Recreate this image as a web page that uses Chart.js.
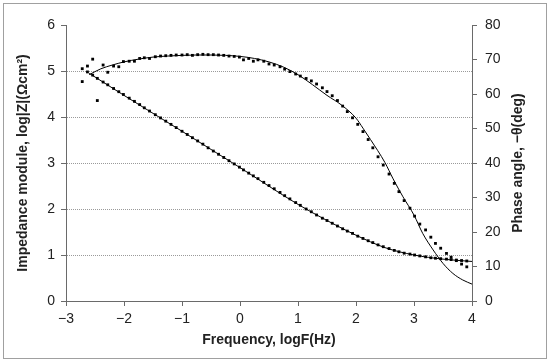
<!DOCTYPE html>
<html>
<head>
<meta charset="utf-8">
<script src="https://cdn.jsdelivr.net/npm/chart.js@4.4.0/dist/chart.umd.min.js"></script>
<style>
  body { margin: 0; background: #fff; }
  #wrap { position: relative; width: 550px; height: 362px; }
  #frame { position: absolute; left: 3px; top: 3px; width: 542px; height: 354px; border: 1px solid #a0a0a0; pointer-events: none; }
  canvas { position: absolute; left: 0; top: 0; }
</style>
</head>
<body>
<div id="wrap">
  <canvas id="bodeChart" width="550" height="362"></canvas>
  <div id="frame"></div>
</div>
<script>
// measured points, logF(Hz)
const freq = [-2.72, -2.63, -2.54, -2.46, -2.36, -2.28, -2.18, -2.09, -2.01, -1.91,
  -1.82, -1.73, -1.65, -1.56, -1.46, -1.37, -1.28, -1.19, -1.10, -1.00,
  -0.91, -0.82, -0.73, -0.64, -0.55, -0.46, -0.37, -0.28, -0.19, -0.10,
  -0.01, 0.06, 0.15, 0.23, 0.31, 0.41, 0.50, 0.59, 0.69, 0.77,
  0.86, 0.96, 1.04, 1.14, 1.23, 1.32, 1.42, 1.50, 1.59, 1.68,
  1.77, 1.85, 1.94, 2.03, 2.12, 2.21, 2.29, 2.38, 2.47, 2.57,
  2.66, 2.74, 2.83, 2.93, 3.01, 3.10, 3.20, 3.29, 3.37, 3.46,
  3.56, 3.64, 3.73, 3.82, 3.91];

// log|Z| (Ohm cm2)
const impedance = [5.05, 4.98, 4.91, 4.84, 4.76, 4.70, 4.62, 4.55, 4.49, 4.41,
  4.34, 4.27, 4.20, 4.13, 4.05, 3.98, 3.91, 3.84, 3.77, 3.69,
  3.62, 3.55, 3.48, 3.41, 3.33, 3.26, 3.19, 3.12, 3.05, 2.98,
  2.91, 2.85, 2.78, 2.72, 2.66, 2.58, 2.51, 2.44, 2.36, 2.29,
  2.22, 2.14, 2.08, 2.00, 1.94, 1.87, 1.80, 1.75, 1.69, 1.63,
  1.57, 1.52, 1.47, 1.41, 1.36, 1.31, 1.27, 1.22, 1.18, 1.14,
  1.10, 1.07, 1.04, 1.02, 1.00, 0.98, 0.96, 0.94, 0.93, 0.92,
  0.91, 0.90, 0.89, 0.88, 0.87];

// -theta (deg)
const phase = [63.6, 68.1, 70.1, 58.1, 68.4, 66.3, 68.1, 67.9, 69.4, 69.5,
  69.5, 70.3, 70.5, 70.3, 70.8, 71.0, 71.1, 71.2, 71.3, 71.3,
  71.4, 71.2, 71.4, 71.5, 71.4, 71.4, 71.3, 71.2, 71.0, 70.9,
  70.7, 69.9, 70.3, 69.5, 69.9, 69.5, 68.7, 68.4, 67.9, 67.2,
  66.5, 65.8, 65.2, 64.5, 63.8, 62.9, 61.8, 60.7, 59.5, 58.1,
  56.5, 54.9, 53.1, 51.2, 49.1, 46.8, 44.4, 41.8, 39.4, 36.8,
  34.1, 31.7, 29.1, 26.9, 24.6, 22.3, 20.6, 18.5, 16.7, 15.3,
  13.8, 12.7, 11.7, 10.7, 9.9];

// fitted curves
const impFitFreq = [-2.6, -2.0, -1.0, 0.0, 1.0, 1.5, 2.0, 2.5, 3.0, 3.5, 4.0];
const impFit = [4.95, 4.47, 3.69, 2.90, 2.10, 1.75, 1.43, 1.16, 1.00, 0.91, 0.86];

const phaseFitFreq = [-2.6, -2.4, -2.2, -2.0, -1.75, -1.5, -1.25, -1.0, -0.75, -0.5,
  -0.25, 0.0, 0.25, 0.5, 0.75, 1.0, 1.25, 1.5, 1.75, 2.0,
  2.12, 2.25, 2.5, 2.64, 2.81, 3.0, 3.15, 3.33, 3.5, 3.67,
  3.84, 4.0];
const phaseFit = [65.6, 67.3, 68.4, 69.3, 70.1, 70.7, 71.0, 71.2, 71.3, 71.3,
  71.2, 70.9, 70.3, 69.3, 67.8, 65.6, 62.7, 59.6, 56.8, 53.0,
  50.1, 46.8, 40.1, 35.4, 30.2, 24.9, 19.6, 14.8, 10.9, 8.0,
  6.1, 4.9];

const toPoints = (xs, ys) => xs.map((x, i) => ({ x: x, y: ys[i] }));
const minus = (v) => String(v).replace("-", "\u2212");

Chart.defaults.font.family = "'Liberation Sans', Arial, sans-serif";
Chart.defaults.font.size = 14;
Chart.defaults.color = "#222";

const axisColor = "#6a6a6a";
const titleFont = { family: "'Liberation Sans', Arial, sans-serif", size: 14, weight: "bold" };

// right axis title reads bottom-to-top like the left one
const rightTitle = {
  id: "rightTitle",
  afterDraw(chart) {
    const { ctx, chartArea: { top, bottom } } = chart;
    const y2 = chart.scales.y2;
    ctx.save();
    ctx.translate(y2.right - 32, (top + bottom) / 2);
    ctx.rotate(-Math.PI / 2);
    ctx.font = "bold 14px 'Liberation Sans', Arial, sans-serif";
    ctx.fillStyle = "#222";
    ctx.textAlign = "center";
    ctx.textBaseline = "middle";
    ctx.fillText("Phase angle, \u2212\u03B8(deg)", 0, 0);
    ctx.restore();
  },
};

const bodeChart = new Chart(document.getElementById("bodeChart"), {
  type: "scatter",
  data: {
    datasets: [
      {
        label: "log|Z|",
        data: toPoints(freq, impedance),
        yAxisID: "y",
        pointStyle: "rect",
        pointRadius: 2,
        pointBorderWidth: 0,
        backgroundColor: "#000",
      },
      {
        label: "log|Z| fit",
        data: toPoints(impFitFreq, impFit),
        yAxisID: "y",
        showLine: true,
        pointRadius: 0,
        borderColor: "#000",
        borderWidth: 1,
        cubicInterpolationMode: "monotone",
      },
      {
        label: "phase",
        data: toPoints(freq, phase),
        yAxisID: "y2",
        pointStyle: "rect",
        pointRadius: 2,
        pointBorderWidth: 0,
        backgroundColor: "#000",
      },
      {
        label: "phase fit",
        data: toPoints(phaseFitFreq, phaseFit),
        yAxisID: "y2",
        showLine: true,
        pointRadius: 0,
        borderColor: "#000",
        borderWidth: 1,
        cubicInterpolationMode: "monotone",
      },
    ],
  },
  options: {
    responsive: false,
    animation: false,
    layout: { padding: { top: 25, left: 0, right: 0, bottom: 0 } },
    plugins: { legend: { display: false }, tooltip: { enabled: false } },
    scales: {
      x: {
        type: "linear",
        position: "bottom",
        min: -3,
        max: 4,
        ticks: { stepSize: 1, padding: 5, callback: (v) => minus(v) },
        grid: { drawOnChartArea: false, tickLength: 5, tickColor: axisColor },
        border: { color: axisColor },
        title: { display: true, text: "Frequency, logF(Hz)", font: titleFont, padding: { top: 0, bottom: 13.6 } },
        afterFit: (s) => { s.height = 61; },
      },
      y: {
        position: "left",
        min: 0,
        max: 6,
        ticks: { stepSize: 1, padding: 6 },
        grid: {
          color: (ctx) => (ctx.tick && (ctx.tick.value === 0 || ctx.tick.value === 6)) ? "rgba(0,0,0,0)" : "#9a9a9a",
          tickLength: 5,
          tickColor: axisColor,
        },
        border: { color: axisColor, dash: [1, 1] },
        title: { display: true, text: "Impedance module, log|Z|(\u03A9cm\u00B2)", font: titleFont, padding: { top: 14.6, bottom: 0 } },
        afterFit: (s) => { s.width = 66; },
      },
      y2: {
        position: "right",
        min: 0,
        max: 80,
        ticks: { stepSize: 10, padding: 8 },
        grid: { drawOnChartArea: false, tickLength: 5, tickColor: axisColor },
        border: { color: axisColor },
        afterFit: (s) => { s.width = 78; },
      },
    },
  },
  plugins: [rightTitle],
});
</script>
</body>
</html>
